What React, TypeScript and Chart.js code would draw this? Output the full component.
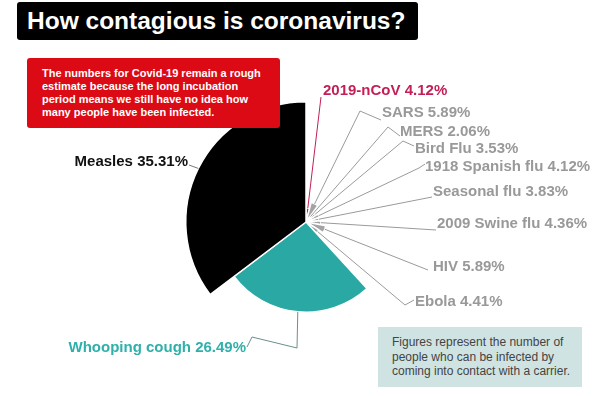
import React, { useEffect, useRef } from "react";
import { Chart, registerables } from "chart.js";
Chart.register(...registerables);

// ---- data (clockwise from 12 o'clock) ----
const diseases = [
  "2019-nCoV",
  "SARS",
  "MERS",
  "Bird Flu",
  "1918 Spanish flu",
  "Seasonal flu",
  "2009 Swine flu",
  "HIV",
  "Ebola",
  "Whooping cough",
  "Measles",
];
const shares = [4.12, 5.89, 2.06, 3.53, 4.12, 3.83, 4.36, 5.89, 4.41, 26.49, 35.31];

const titleText = "How contagious is coronavirus?";
const noteRed = "The numbers for Covid-19 remain a rough estimate because the long incubation period means we still have no idea how many people have been infected.";
const noteBlueLines = [
  "Figures represent the number of",
  "people who can be infected by",
  "coming into contact with a carrier.",
];

// ---- styles ----
const GREY = "#a3a3a3";
const sliceColors = ["#c8235a", GREY, GREY, GREY, GREY, GREY, GREY, GREY, GREY, "#2aa8a4", "#000000"];
const labelColors = ["#c41e58", "#999999", "#999999", "#999999", "#999999", "#999999", "#999999", "#999999", "#999999", "#2fb0ab", "#111111"];
const lineColors = ["#c41e58", "#9a9a9a", "#9a9a9a", "#9a9a9a", "#9a9a9a", "#9a9a9a", "#9a9a9a", "#9a9a9a", "#9a9a9a", "#6a8f8e", "#777777"];

// ---- label layout (text anchor x, y, alignment) ----
const labelAnchors: [number, number, "left" | "right"][] = [
  [323, 91, "left"],
  [382, 113, "left"],
  [400, 132, "left"],
  [415, 149, "left"],
  [425, 167, "left"],
  [433, 192, "left"],
  [437, 224, "left"],
  [433, 267, "left"],
  [415, 302, "left"],
  [246, 348, "right"],
  [188, 162, "right"],
];
// leader line waypoints after the slice's outer mid point
const leaderPaths: [number, number][][] = [
  [[321, 97]],
  [[360, 111], [381, 120]],
  [[388, 127], [400, 136]],
  [[403, 141], [414, 146]],
  [[419, 168], [425, 164]],
  [[432, 197]],
  [[436, 230]],
  [[428, 270]],
  [[405, 305], [414, 300]],
  [[297, 348], [252, 337], [247, 347]],
  [[189, 165]],
];

const variableRadius = {
  id: "variableRadius",
  afterDatasetsUpdate(chart: any) {
    const meta = chart.getDatasetMeta(0);
    const max = Math.max(...shares);
    meta.data.forEach((arc: any, i: number) => {
      const base = chart._fullRadius || arc.outerRadius;
      chart._fullRadius = base;
      arc.outerRadius = (base * shares[i]) / max;
      arc.innerRadius = 0;
    });
  },
};

const labelsPlugin = {
  id: "sliceLabels",
  afterDraw(chart: any) {
    const ctx = chart.ctx;
    const meta = chart.getDatasetMeta(0);
    ctx.save();
    meta.data.forEach((arc: any, i: number) => {
      const a = (arc.startAngle + arc.endAngle) / 2;
      const r = arc.outerRadius;
      const sx = arc.x + Math.cos(a) * r;
      const sy = arc.y + Math.sin(a) * r;
      ctx.beginPath();
      ctx.moveTo(sx, sy);
      leaderPaths[i].forEach(([x, y]) => ctx.lineTo(x, y));
      ctx.strokeStyle = lineColors[i];
      ctx.lineWidth = 1;
      ctx.stroke();
      const [tx, ty, align] = labelAnchors[i];
      ctx.font = "bold 15px 'Liberation Sans', Arial, sans-serif";
      ctx.fillStyle = labelColors[i];
      ctx.textAlign = align;
      ctx.textBaseline = "middle";
      ctx.fillText(`${diseases[i]} ${shares[i].toFixed(2)}%`, tx, ty);
    });
    ctx.restore();
  },
};

export default function App() {
  const ref = useRef<HTMLCanvasElement>(null);
  useEffect(() => {
    document.body.style.margin = "0";
    const chart = new Chart(ref.current!, {
      type: "pie",
      data: {
        labels: diseases,
        datasets: [
          {
            data: shares,
            backgroundColor: sliceColors,
            borderColor: "#ffffff",
            borderWidth: 1.5,
          },
        ],
      },
      options: {
        responsive: false,
        animation: false,
        layout: { padding: { left: 185, right: 170, top: 101, bottom: 53 } },
        plugins: { legend: { display: false }, tooltip: { enabled: false }, title: { display: false } },
      },
      plugins: [variableRadius, labelsPlugin],
    });
    return () => chart.destroy();
  }, []);

  return (
    <div
      style={{
        position: "fixed",
        left: 0,
        top: 0,
        width: 597,
        height: 396,
        background: "#ffffff",
        fontFamily: "'Liberation Sans', Arial, sans-serif",
        overflow: "hidden",
      }}
    >
      <canvas ref={ref} width={597} height={396} style={{ position: "absolute", left: 0, top: 0 }} />
      <div
        style={{
          position: "absolute",
          left: 17,
          top: 2,
          width: 401,
          height: 38,
          background: "#000",
          borderRadius: 3,
          color: "#fff",
          fontWeight: "bold",
          fontSize: 24.5,
          lineHeight: "38px",
          paddingLeft: 10,
          boxSizing: "border-box",
          whiteSpace: "nowrap",
        }}
      >
        {titleText}
      </div>
      <div
        style={{
          position: "absolute",
          left: 27,
          top: 58,
          width: 253,
          height: 70,
          background: "#dc0a14",
          borderRadius: 3,
          color: "#fff",
          fontWeight: "bold",
          fontSize: 11,
          lineHeight: "13px",
          padding: "9px 14px 0 15px",
          boxSizing: "border-box",
        }}
      >
        {noteRed}
      </div>
      <div
        style={{
          position: "absolute",
          left: 378,
          top: 327,
          width: 204,
          height: 60,
          background: "#cfe3e3",
          color: "#444",
          fontSize: 12,
          lineHeight: "14.5px",
          padding: "8px 2px 0 14px",
          boxSizing: "border-box",
          whiteSpace: "nowrap",
        }}
      >
        {noteBlueLines.map((l, i) => (
          <div key={i}>{l}</div>
        ))}
      </div>
    </div>
  );
}
